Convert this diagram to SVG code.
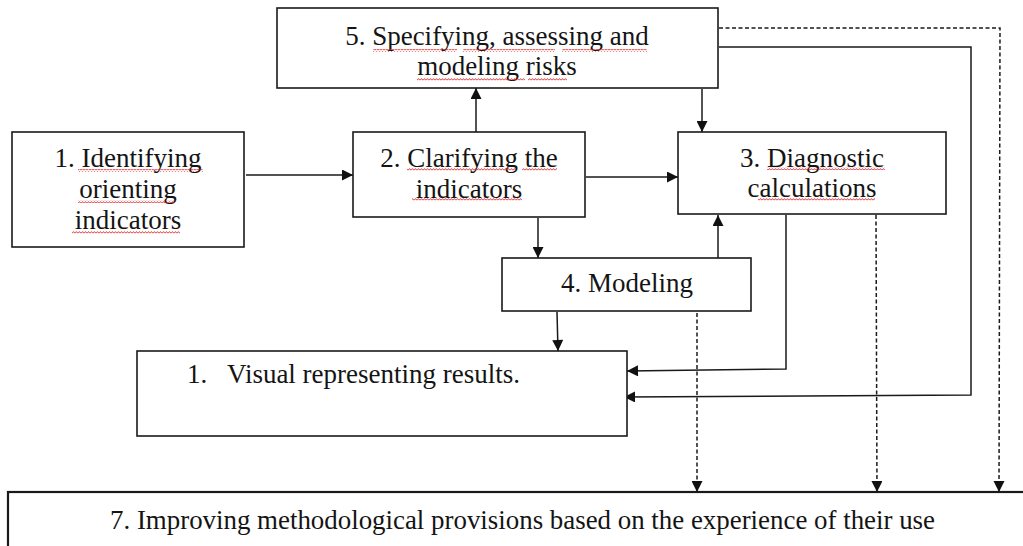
<svg xmlns="http://www.w3.org/2000/svg" width="1023" height="546" viewBox="0 0 1023 546">
  <style>
    .box { fill: #fff; stroke: #1a1a1a; stroke-width: 1.6; }
    .t { font-family: "Liberation Serif", "Times New Roman", serif; font-size: 27px; fill: #141414; }
    .c { text-anchor: middle; }
    .ln { fill: none; stroke: #1a1a1a; stroke-width: 1.5; }
    .dash { fill: none; stroke: #1a1a1a; stroke-width: 1.5; stroke-dasharray: 4 2.5; }
    .sq { fill: url(#wave); }
  </style>
  <defs>
    <marker id="ah" viewBox="0 0 10 10" refX="10" refY="5" markerWidth="7" markerHeight="7" markerUnits="userSpaceOnUse" orient="auto">
      <path d="M0,0 L10,5 L0,10 Z" fill="#111"/>
    </marker>
    <marker id="ahb" viewBox="0 0 10 10" refX="10" refY="5" markerWidth="12" markerHeight="11" markerUnits="userSpaceOnUse" orient="auto">
      <path d="M0,0 L10,5 L0,10 Z" fill="#111"/>
    </marker>
    <pattern id="wave" width="3" height="3" patternUnits="userSpaceOnUse">
      <path d="M0,2.4 L1.5,0.6 L3,2.4" fill="none" stroke="#e02020" stroke-width="0.9"/>
    </pattern>
  </defs>
  <rect width="1023" height="546" fill="#fff"/>

  <g id="connectors">
    <!-- 1 -> 2 -->
    <line class="ln" x1="246" y1="175" x2="353" y2="175" marker-end="url(#ahb)"/>
    <!-- 2 -> 3 -->
    <line class="ln" x1="586" y1="177" x2="678" y2="177" marker-end="url(#ahb)"/>
    <!-- 2 -> 5 -->
    <line class="ln" x1="476" y1="132" x2="476" y2="88" marker-end="url(#ahb)"/>
    <!-- 5 -> 3 -->
    <line class="ln" x1="702" y1="89" x2="702" y2="132" marker-end="url(#ahb)"/>
    <!-- 2 -> 4 -->
    <line class="ln" x1="538" y1="218" x2="538" y2="258" marker-end="url(#ahb)"/>
    <!-- 4 -> 3 -->
    <line class="ln" x1="718" y1="258" x2="718" y2="215" marker-end="url(#ahb)"/>
    <!-- 4 -> 6 -->
    <line class="ln" x1="557" y1="312" x2="558" y2="351" marker-end="url(#ahb)"/>
    <!-- 3 -> 6 -->
    <polyline class="ln" points="786,215 786,369 627,371" marker-end="url(#ahb)"/>
    <!-- 5 -> 6 -->
    <polyline class="ln" points="719,47 971,47 971,395 624,397" marker-end="url(#ahb)"/>
    <!-- dashed 5 -> 7 -->
    <polyline class="dash" points="719,28 1000,28 999,492" marker-end="url(#ahb)"/>
    <!-- dashed 3 -> 7 -->
    <line class="dash" x1="876" y1="215" x2="877" y2="492" marker-end="url(#ahb)"/>
    <!-- dashed 4 -> 7 -->
    <line class="dash" x1="697" y1="313" x2="697" y2="492" marker-end="url(#ahb)"/>
  </g>

  <g id="node5">
    <rect class="box" x="277" y="8" width="441" height="80"/>
    <text class="t c" x="497" y="45">5. Specifying, assessing  and</text>
    <text class="t c" x="497" y="75">modeling risks</text>
    <rect class="sq" x="373" y="49" width="84" height="3"/>
    <rect class="sq" x="463" y="49" width="92" height="3"/>
    <rect class="sq" x="562" y="49" width="85" height="3"/>
    <rect class="sq" x="417" y="78" width="108" height="3"/>
    <rect class="sq" x="528" y="78" width="39" height="3"/>
  </g>

  <g id="node1">
    <rect class="box" x="12" y="132" width="232" height="115"/>
    <text class="t c" x="128" y="167">1. Identifying</text>
    <text class="t c" x="128" y="198">orienting</text>
    <text class="t c" x="128" y="229">indicators</text>
    <rect class="sq" x="78" y="169" width="125" height="3"/>
    <rect class="sq" x="78" y="200" width="97" height="3"/>
    <rect class="sq" x="72" y="231" width="108" height="3"/>
  </g>

  <g id="node2">
    <rect class="box" x="353" y="132" width="232" height="85"/>
    <text class="t c" x="469" y="167">2. Clarifying the</text>
    <text class="t c" x="469" y="198">indicators</text>
    <rect class="sq" x="407" y="168" width="108" height="3"/>
    <rect class="sq" x="522" y="168" width="35" height="3"/>
    <rect class="sq" x="412" y="198" width="110" height="3"/>
  </g>

  <g id="node3">
    <rect class="box" x="678" y="132" width="268" height="82"/>
    <text class="t c" x="812" y="167">3. Diagnostic</text>
    <text class="t c" x="812" y="197">calculations</text>
    <rect class="sq" x="767" y="167" width="118" height="3"/>
    <rect class="sq" x="758" y="198" width="117" height="3"/>
  </g>

  <g id="node4">
    <rect class="box" x="502" y="258" width="249" height="53"/>
    <text class="t c" x="627" y="292">4. Modeling</text>
  </g>

  <g id="node6">
    <rect class="box" x="137" y="351" width="490" height="85"/>
    <text class="t" x="187" y="383">1.</text>
    <text class="t" x="227" y="383">Visual representing results.</text>
  </g>

  <g id="node7">
    <rect class="box" x="8" y="492" width="1030" height="70" style="stroke-width:2.2"/>
    <text class="t" x="110" y="529" textLength="825" lengthAdjust="spacingAndGlyphs">7. Improving methodological provisions  based on the experience  of their use</text>
  </g>
</svg>
